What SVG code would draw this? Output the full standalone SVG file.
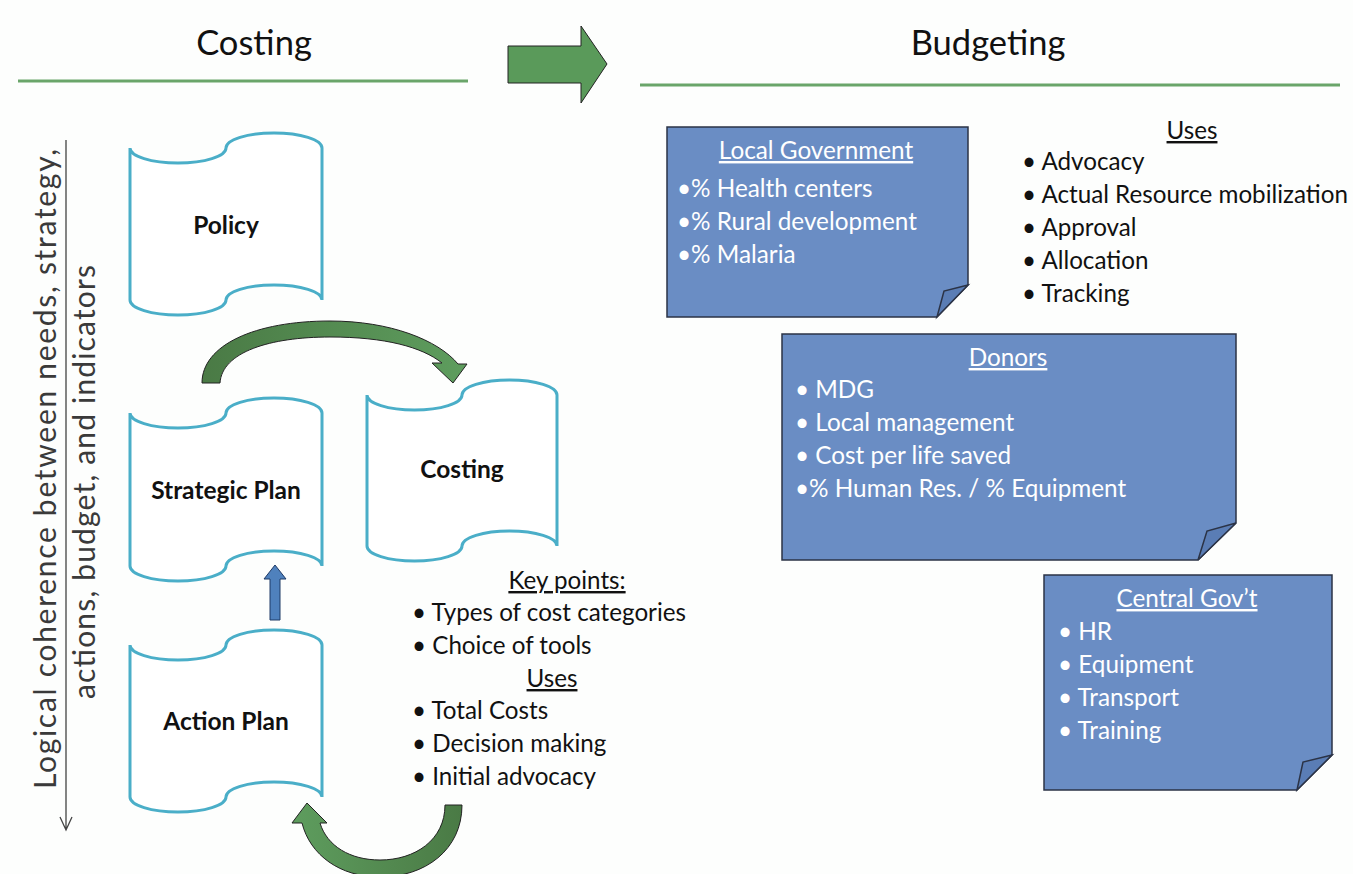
<svg xmlns="http://www.w3.org/2000/svg" width="1353" height="874" viewBox="0 0 1353 874">
<defs>
<style>
text{font-family:Lato,"Open Sans","Liberation Sans",sans-serif;}
.hdr{font-size:34.5px;fill:#111;text-anchor:middle;}
.scroll{fill:#fff;stroke:#4aaec8;stroke-width:3;}
.lbl{font-size:24.5px;font-weight:bold;fill:#111;text-anchor:middle;}
.kp{font-size:24.2px;fill:#111;}
.ul{text-decoration:underline;text-anchor:middle;}
.note{fill:#6a8dc4;stroke:#2b3346;stroke-width:1.5;}
.flap{fill:#5a7db5;stroke:#2b3346;stroke-width:1.5;}
.wt{font-size:24.3px;fill:#fff;}
.vt{font-size:30px;fill:#3a3a3a;text-anchor:middle;font-weight:400;}
</style>
<linearGradient id="gTop" x1="0" y1="0" x2="1" y2="0">
<stop offset="0" stop-color="#4a7a45"/><stop offset="1" stop-color="#5e9d5e"/>
</linearGradient>
<linearGradient id="gBot" x1="1" y1="0" x2="0" y2="0">
<stop offset="0" stop-color="#4a7a45"/><stop offset="1" stop-color="#5e9d5e"/>
</linearGradient>
</defs>
<rect x="0" y="0" width="1353" height="874" fill="#fdfefd"/>

<g id="header-costing">
<text class="hdr" x="254" y="55">Costing</text>
<line x1="18" y1="81" x2="468" y2="81" stroke="#6aa56a" stroke-width="3"/>
</g>
<g id="header-budgeting">
<text class="hdr" x="988" y="55">Budgeting</text>
<line x1="640" y1="85" x2="1340" y2="85" stroke="#6aa56a" stroke-width="3"/>
</g>

<g id="vertical-label">
<text class="vt" transform="translate(56,469) rotate(-90)" textLength="640" lengthAdjust="spacing">Logical coherence between needs, strategy,</text>
<text class="vt" transform="translate(95,482) rotate(-90)" textLength="434" lengthAdjust="spacing">actions, budget, and indicators</text>
</g>

<g id="connectors">
<path d="M508,46 L581,46 L581,26 L607,64 L581,103 L581,83 L508,83 Z" fill="#5a9a5a" stroke="#222" stroke-width="1"/>
<path d="M66,140 L66,829 M60,817 L66,830 L72,817" fill="none" stroke="#444" stroke-width="1.3"/>
<path d="M202,383 C202,345 255,321 330,321 C390,321 438,340 458,364 L467,364 L453,383 L432,363 L442,363 C422,347 385,337 330,337 C270,337 222,352 220,383 Z" fill="url(#gTop)" stroke="#222" stroke-width="1"/>
<path d="M445,805 L462,805 C462,850 425,877 380,877 C340,877 310,855 302,823 L292,823 L307,803 L327,823 L320,823 C327,846 350,860 380,860 C415,860 445,840 445,805 Z" fill="url(#gBot)" stroke="#222" stroke-width="1"/>
<path d="M275,565 L286,579 L280,579 L280,620 L270,620 L270,579 L264,579 Z" fill="#4f81bd" stroke="#1f3a66" stroke-width="1"/>
</g>

<g id="policy">
<path class="scroll" d="M130,148 A48,15 0 0 0 226,148 A48,15 0 0 1 322,148 L322,300 A48,15 0 0 0 226,300 A48,15 0 0 1 130,300 Z"/>
<text class="lbl" x="226" y="234">Policy</text>
</g>
<g id="strategic-plan">
<path class="scroll" d="M130,413 A48,15 0 0 0 226,413 A48,15 0 0 1 322,413 L322,566 A48,15 0 0 0 226,566 A48,15 0 0 1 130,566 Z"/>
<text class="lbl" x="226" y="499">Strategic Plan</text>
</g>
<g id="action-plan">
<path class="scroll" d="M130,645 A48,15 0 0 0 226,645 A48,15 0 0 1 322,645 L322,797 A48,15 0 0 0 226,797 A48,15 0 0 1 130,797 Z"/>
<text class="lbl" x="226" y="730">Action Plan</text>
</g>
<g id="costing">
<path class="scroll" d="M367,395 A47.5,15 0 0 0 462,395 A47.5,15 0 0 1 557,395 L557,546 A47.5,15 0 0 0 462,546 A47.5,15 0 0 1 367,546 Z"/>
<text class="lbl" x="462" y="478">Costing</text>
</g>

<g id="costing-keypoints">
<text class="kp ul" x="567" y="589">Key points:</text>
<text class="kp" x="412" y="621">• Types of cost categories</text>
<text class="kp" x="412" y="654">• Choice of tools</text>
<text class="kp ul" x="552" y="687">Uses</text>
<text class="kp" x="412" y="719">• Total Costs</text>
<text class="kp" x="412" y="752">• Decision making</text>
<text class="kp" x="412" y="785">• Initial advocacy</text>
</g>

<g id="local-government">
<path class="note" d="M667,127 L968,127 L968,285 L937,317 L667,317 Z"/>
<path class="flap" d="M968,285 L944,291 L937,317 Z"/>
<text class="wt ul" x="816" y="159">Local Government</text>
<text class="wt" x="677" y="197">•% Health centers</text>
<text class="wt" x="677" y="230">•% Rural development</text>
<text class="wt" x="677" y="263">•% Malaria</text>
</g>

<g id="budget-uses">
<text class="kp ul" x="1192" y="139">Uses</text>
<text class="kp" x="1022" y="170">• Advocacy</text>
<text class="kp" x="1022" y="203">• Actual Resource mobilization</text>
<text class="kp" x="1022" y="236">• Approval</text>
<text class="kp" x="1022" y="269">• Allocation</text>
<text class="kp" x="1022" y="302">• Tracking</text>
</g>

<g id="donors">
<path class="note" d="M782,334 L1236,334 L1236,523 L1198,560 L782,560 Z"/>
<path class="flap" d="M1236,523 L1207,531 L1198,560 Z"/>
<text class="wt ul" x="1008" y="366">Donors</text>
<text class="wt" x="795" y="398">• MDG</text>
<text class="wt" x="795" y="431">• Local management</text>
<text class="wt" x="795" y="464">• Cost per life saved</text>
<text class="wt" x="795" y="497">•% Human Res. / % Equipment</text>
</g>

<g id="central-govt">
<path class="note" d="M1044,575 L1332,575 L1332,755 L1297,790 L1044,790 Z"/>
<path class="flap" d="M1332,755 L1303,762 L1297,790 Z"/>
<text class="wt ul" x="1187" y="607">Central Gov’t</text>
<text class="wt" x="1058" y="640">• HR</text>
<text class="wt" x="1058" y="673">• Equipment</text>
<text class="wt" x="1058" y="706">• Transport</text>
<text class="wt" x="1058" y="739">• Training</text>
</g>
</svg>
